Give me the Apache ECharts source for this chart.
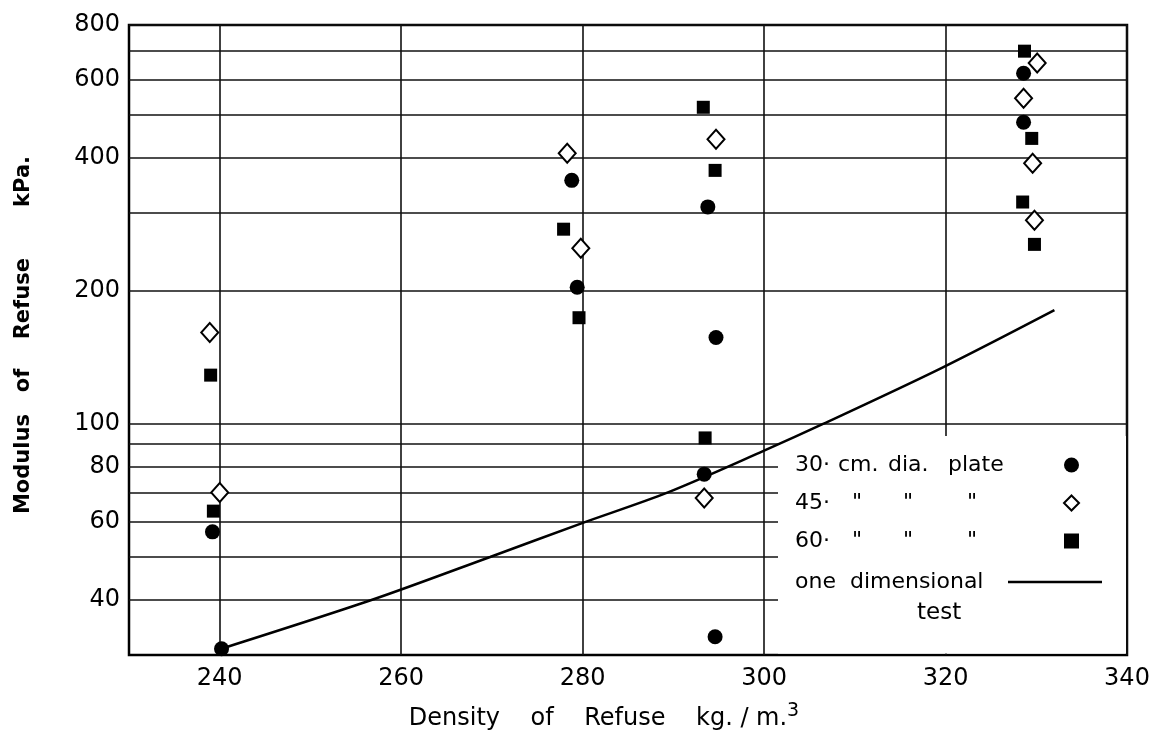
<!DOCTYPE html>
<html><head><meta charset="utf-8">
<script src="https://cdn.jsdelivr.net/npm/echarts@6/dist/echarts.min.js"></script>
<style>html,body{margin:0;padding:0;background:#fff}#c{width:1158px;height:739px}</style>
</head><body><div id="c"></div>
<script>
// ---- data ----
const xTicks = [240, 260, 280, 300, 320, 340];
const yTickLabels = [40, 60, 80, 100, 200, 400, 600, 800];
const yGridValues = [40, 50, 60, 70, 80, 90, 100, 200, 300, 400, 500, 600, 700, 800];

const plate30 = [[239.2, 57], [240.2, 31], [278.8, 356], [279.4, 204], [293.8, 310], [294.7, 157],
  [293.4, 77], [294.6, 33], [328.6, 622], [328.6, 482]];
const plate45 = [[238.9, 161], [240.0, 70], [278.3, 410], [279.8, 250], [294.7, 441], [293.4, 68],
  [330.1, 656], [328.6, 546], [329.6, 389], [329.8, 289]];
const plate60 = [[239.0, 129], [239.3, 63.5], [277.9, 276], [279.6, 174], [293.3, 521], [294.6, 375],
  [293.5, 93], [328.7, 698], [329.5, 443], [328.5, 318], [329.8, 255]];
const oneDimensional = [[240.2, 31], [256.8, 40], [269.8, 50], [279.8, 59.5], [289.4, 70],
  [300.0, 87], [306.5, 100], [319.6, 134], [332.0, 181]];

const seriesNames = ['30 cm. dia. plate', '45 cm. dia. plate', '60 cm. dia. plate', 'one dimensional test'];
const legendLabels = {
  '30 cm. dia. plate': '{n|30·}{c|cm.}{d|dia.}{p|plate}',
  '45 cm. dia. plate': '{m|45·}{x|"}{y|"}{z|"}',
  '60 cm. dia. plate': '{m|60·}{x|"}{y|"}{z|"}',
  'one dimensional test': '{o|one  dimensional}'
};
const xName = 'Density    of    Refuse    kg. / m.{sup|3}';
const yName = 'Modulus   of    Refuse       kPa.';

const FONT = 'DejaVu Sans';
const chart = echarts.init(document.getElementById('c'), null, {renderer: 'canvas'});
const gridLine = {show: true, lineStyle: {color: '#111', width: 1.6}};
const tok = (w) => ({width: w, align: 'left', fontFamily: FONT, fontSize: 22, color: '#000'});

chart.setOption({
  backgroundColor: '#fff',
  animation: false,
  grid: {left: 129, right: 31, top: 25, bottom: 84, show: true, borderColor: '#000', borderWidth: 2.5, backgroundColor: 'transparent'},
  xAxis: {
    type: 'value', min: 230, max: 340,
    axisLine: {show: false},
    axisTick: {show: false, customValues: xTicks},
    axisLabel: {customValues: xTicks, fontFamily: FONT, fontSize: 24, color: '#000', margin: 12},
    splitLine: gridLine,
    name: xName, nameLocation: 'middle', nameGap: 47,
    nameTextStyle: {fontFamily: FONT, fontSize: 24, color: '#000', padding: [0, 48, 0, 0],
      rich: {sup: {fontFamily: FONT, fontSize: 19, color: '#000', padding: [0, 0, 14, 0]}}}
  },
  yAxis: {
    type: 'log', logBase: 10, min: 30, max: 800,
    axisLine: {show: false},
    axisTick: {show: false, customValues: yGridValues},
    axisLabel: {customValues: yTickLabels, fontFamily: FONT, fontSize: 24, color: '#000', margin: 9},
    splitLine: gridLine,
    minorSplitLine: {show: false},
    name: yName, nameLocation: 'middle', nameGap: 95,
    nameTextStyle: {fontFamily: FONT, fontSize: 21, fontWeight: 'bold', color: '#000', padding: [0, 0, 0, 10]}
  },
  legend: [{
    orient: 'vertical', left: 795, top: 453, padding: 0, itemGap: 14,
    align: 'right', itemWidth: 15, itemHeight: 15, selectedMode: false,
    data: seriesNames.slice(0, 3),
    formatter: (n) => legendLabels[n],
    textStyle: {fontFamily: FONT, fontSize: 22, color: '#000', lineHeight: 24,
      rich: {n: tok(43), c: tok(50), d: tok(60), p: tok(111), m: tok(57), x: tok(51), y: tok(64), z: tok(92)}}
  }, {
    orient: 'vertical', left: 795, top: 570, padding: 0,
    align: 'right', itemWidth: 94, itemHeight: 2.5, selectedMode: false,
    icon: 'rect',
    data: [seriesNames[3]],
    formatter: (n) => legendLabels[n],
    textStyle: {fontFamily: FONT, fontSize: 22, color: '#000', lineHeight: 24, rich: {o: tok(208)}}
  }],
  graphic: [
    {type: 'rect', z: 1, shape: {x: 778, y: 436, width: 348, height: 217.5}, style: {fill: '#fff'}},
    {type: 'text', z: 5, left: 917, top: 602, style: {text: 'test', fontFamily: FONT, fontSize: 23, fill: '#000'}}
  ],
  series: [
    {name: seriesNames[0], type: 'scatter', data: plate30, symbol: 'circle', symbolSize: 15,
      itemStyle: {color: '#000', opacity: 1}, z: 3},
    {name: seriesNames[1], type: 'scatter', data: plate45, symbol: 'diamond', symbolSize: [17, 19],
      itemStyle: {color: '#fff', borderColor: '#000', borderWidth: 2, opacity: 1}, z: 3},
    {name: seriesNames[2], type: 'scatter', data: plate60, symbol: 'rect', symbolSize: 13,
      itemStyle: {color: '#000', opacity: 1}, z: 3},
    {name: seriesNames[3], type: 'line', data: oneDimensional, showSymbol: false, symbol: 'none',
      smooth: 0.3, lineStyle: {color: '#000', width: 2.5}, itemStyle: {color: '#000'}, z: 2}
  ]
});
</script></body></html>
